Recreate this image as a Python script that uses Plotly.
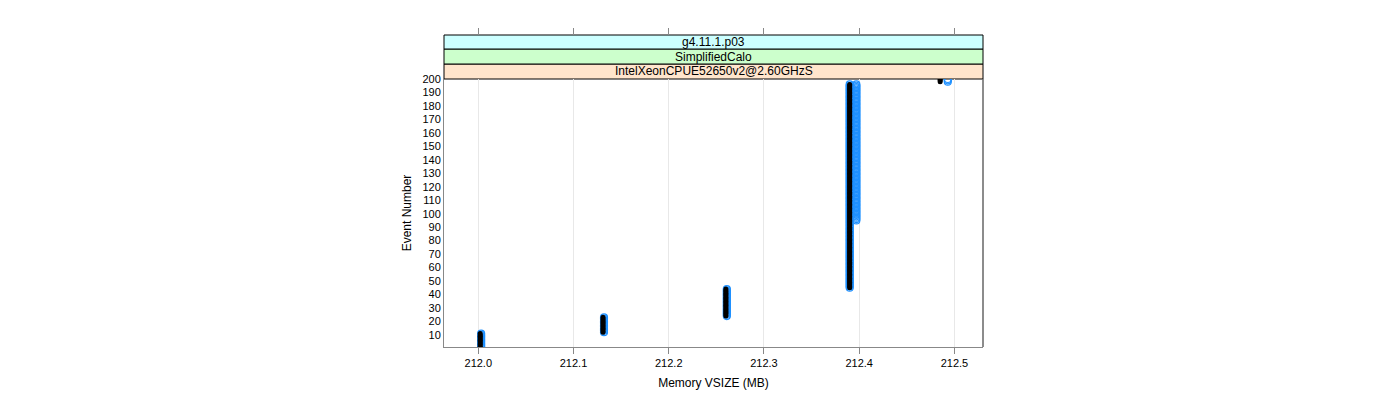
import plotly.graph_objects as go

# ---- data ----
# step segments: memory VSIZE (MB) and the first/last event number at that size
black_vsize = [212.002, 212.131, 212.260, 212.390, 212.485]
black_first = [1, 12, 24, 45, 198]
black_last = [11, 23, 44, 196, 200]

blue_vsize = [212.003, 212.132, 212.261, 212.390, 212.397, 212.493]
blue_first = [1, 12, 24, 45, 95, 198]
blue_last = [11, 23, 44, 196, 196, 200]

strip_labels = ["IntelXeonCPUE52650v2@2.60GHzS", "SimplifiedCalo", "g4.11.1.p03"]
strip_colors = ["#ffe5cc", "#ccffcc", "#ccffff"]

x_ticks = [212.0, 212.1, 212.2, 212.3, 212.4, 212.5]
y_ticks = list(range(10, 201, 10))


def expand(vs, firsts, lasts):
    xs, ys = [], []
    for v, a, b in zip(vs, firsts, lasts):
        for e in range(a, b + 1):
            xs.append(v)
            ys.append(e)
    return xs, ys


bx, by = expand(black_vsize, black_first, black_last)
ux, uy = expand(blue_vsize, blue_first, blue_last)

FONT = "Liberation Sans, Arial, sans-serif"
W, H = 1400, 400
L, R, T, B = 444, 983, 79, 347
xd = [L / W, R / W]
yd = [1 - B / H, 1 - T / H]

fig = go.Figure()
fig.add_trace(go.Scatter(
    x=ux, y=uy, mode="markers",
    marker=dict(size=7, symbol="circle-open", color="#1e90ff",
                line=dict(color="#1e90ff", width=1.2)),
    showlegend=False, hoverinfo="x+y"))
fig.add_trace(go.Scatter(
    x=bx, y=by, mode="markers",
    marker=dict(size=5, color="black"),
    showlegend=False, hoverinfo="x+y"))
# empty trace to carry the top tick axis
fig.add_trace(go.Scatter(x=[], y=[], xaxis="x2", yaxis="y", showlegend=False))

xr = [211.964, 212.530]

fig.update_layout(
    width=W, height=H,
    margin=dict(l=0, r=0, t=0, b=0, autoexpand=False),
    paper_bgcolor="white", plot_bgcolor="white",
    font=dict(family=FONT, size=11, color="black"),
    xaxis=dict(domain=xd, range=xr, tickvals=x_ticks,
               ticktext=[f"{v:.1f}" for v in x_ticks],
               ticks="outside", ticklen=6, tickcolor="#888888",
               showline=True, linecolor="#888888", linewidth=1,
               showgrid=True, gridcolor="#e8e8e8", gridwidth=1,
               zeroline=False, anchor="y", automargin=False,
               title=dict(text="Memory VSIZE (MB)", font=dict(size=12), standoff=10)),
    xaxis2=dict(domain=xd, range=xr, tickvals=x_ticks, overlaying="x",
                side="top", anchor="free", position=1 - 35 / H,
                showticklabels=False, ticks="outside", ticklen=7,
                tickcolor="#888888", showline=False, showgrid=False,
                zeroline=False, automargin=False),
    yaxis=dict(domain=yd, range=[1, 200], tickvals=y_ticks,
               ticks="", showline=True, linecolor="#888888", linewidth=1,
               mirror=False, showgrid=False, zeroline=False, automargin=False,
               title=dict(text="Event Number", font=dict(size=12), standoff=8)),
)

# right border of panel
fig.add_shape(type="line", xref="paper", yref="paper",
              x0=xd[1], x1=xd[1], y0=yd[0], y1=yd[1],
              line=dict(color="#666666", width=1.5))

# strips
edges = [79, 64, 49, 35]
for i, (lab, col) in enumerate(zip(strip_labels, strip_colors)):
    y0 = 1 - edges[i] / H
    y1 = 1 - edges[i + 1] / H
    fig.add_shape(type="rect", xref="paper", yref="paper",
                  x0=xd[0], x1=xd[1], y0=y0, y1=y1,
                  fillcolor=col, line=dict(color="black", width=1), layer="below")
    fig.add_annotation(xref="paper", yref="paper", x=(xd[0] + xd[1]) / 2,
                       y=(y0 + y1) / 2, text=lab, showarrow=False,
                       font=dict(size=12, family=FONT, color="black"),
                       xanchor="center", yanchor="middle")

fig.write_html("out.html")
